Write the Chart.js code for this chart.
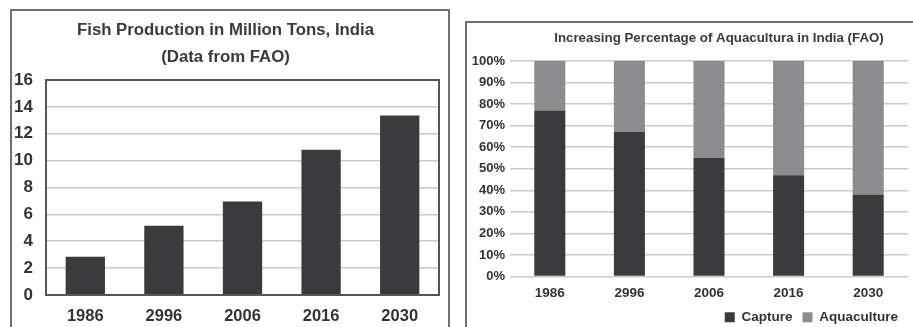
<!DOCTYPE html>
<html lang="en">
<head>
  <meta charset="UTF-8" />
  <title>Fish Production India</title>
  <script src="https://cdn.jsdelivr.net/npm/chart.js"></script>
  <style>
    html, body {
      margin: 0;
      padding: 0;
      width: 913px;
      height: 327px;
      overflow: hidden;
      background: #fff;
      font-family: 'Liberation Sans', Arial, sans-serif;
    }
    .panel {
      position: absolute;
      border: 2px solid #707070;
      box-sizing: border-box;
    }
    #panelLeft { left: 10px; top: 9px; width: 440px; height: 340px; }
    #panelRight { left: 465px; top: 21px; width: 520px; height: 340px; }
    .wrap { position: absolute; }
    #wrapLeft { left: 12px; top: 11px; width: 436px; height: 316px; }
    #wrapRight { left: 467px; top: 23px; width: 504px; height: 311px; }
  </style>
</head>
<body>
  <div class="panel" id="panelLeft"></div>
  <div class="panel" id="panelRight"></div>
  <div class="wrap" id="wrapLeft"><canvas id="chartLeft"></canvas></div>
  <div class="wrap" id="wrapRight"><canvas id="chartRight"></canvas></div>

  <script>
    // datos
    const years = ['1986', '2996', '2006', '2016', '2030'];
    const production = [2.85, 5.15, 6.95, 10.8, 13.35];   // millones de toneladas
    const capture = [77, 67, 55, 47, 38];                  // %
    const aquaculture = [23, 33, 45, 53, 62];              // %
    const yTicksLeft = [0, 2, 4, 6, 8, 10, 12, 14, 16];

    const DARK = '#3b3b3d';
    const LIGHT = '#8c8c8e';
    const GRID = '#cacaca';
    const TEXT = '#333333';
    const FONT = "'Liberation Sans', Arial, sans-serif";

    Chart.defaults.font.family = FONT;
    Chart.defaults.font.weight = 'bold';
    Chart.defaults.color = TEXT;
    Chart.defaults.animation = false;

    // marco del área de trazado (solo gráfica izquierda)
    const plotFrame = {
      id: 'plotFrame',
      afterDatasetsDraw(chart) {
        const a = chart.chartArea;
        const ctx = chart.ctx;
        ctx.save();
        ctx.strokeStyle = '#555';
        ctx.lineWidth = 2;
        ctx.strokeRect(a.left, a.top, a.right - a.left, a.bottom - a.top);
        ctx.restore();
      }
    };

    new Chart(document.getElementById('chartLeft'), {
      type: 'bar',
      data: {
        labels: years,
        datasets: [{
          label: 'Fish Production',
          data: production,
          backgroundColor: DARK,
          categoryPercentage: 1,
          barPercentage: 0.5
        }]
      },
      options: {
        responsive: true,
        maintainAspectRatio: false,
        layout: { padding: { left: 0, right: 9, top: 0, bottom: 0 } },
        plugins: {
          legend: { display: false },
          tooltip: { enabled: false },
          title: {
            display: true,
            text: ['Fish Production in Million Tons, India', '(Data from FAO)'],
            color: '#3a3a3a',
            font: { size: 16.8, weight: 'bold', lineHeight: 1.607 },
            padding: { top: 5.5, bottom: 9.5 }
          }
        },
        scales: {
          x: {
            grid: { display: false, drawTicks: false },
            border: { display: false },
            ticks: { font: { size: 16.5 }, padding: 12 },
            afterFit: s => { s.height = 32; }
          },
          y: {
            min: 0,
            max: 16,
            afterBuildTicks: s => { s.ticks = yTicksLeft.map(v => ({ value: v })); },
            grid: { color: GRID, lineWidth: 1.5, drawTicks: false },
            border: { display: false },
            ticks: { font: { size: 17 }, padding: 13 },
            afterFit: s => { s.width = 34; }
          }
        }
      },
      plugins: [plotFrame]
    });

    new Chart(document.getElementById('chartRight'), {
      type: 'bar',
      data: {
        labels: years,
        datasets: [
          {
            label: 'Capture',
            data: capture,
            backgroundColor: DARK,
            categoryPercentage: 1,
            barPercentage: 0.39
          },
          {
            label: 'Aquaculture',
            data: aquaculture,
            backgroundColor: LIGHT,
            categoryPercentage: 1,
            barPercentage: 0.39
          }
        ]
      },
      options: {
        responsive: true,
        maintainAspectRatio: false,
        plugins: {
          tooltip: { enabled: false },
          title: {
            display: true,
            text: 'Increasing Percentage of Aquacultura in India (FAO)',
            color: '#3a3a3a',
            font: { size: 13.3, weight: 'bold', lineHeight: 1.2 },
            padding: { top: 7, bottom: 15 }
          },
          legend: {
            position: 'bottom',
            align: 'end',
            fullSize: false,
            labels: {
              boxWidth: 10,
              boxHeight: 10,
              padding: 10,
              font: { size: 13.5, weight: 'bold' },
              color: TEXT
            }
          }
        },
        scales: {
          x: {
            stacked: true,
            grid: { display: false, drawTicks: false },
            border: { display: false },
            ticks: { font: { size: 13.5 }, padding: 9 },
            afterFit: s => { s.height = 24; }
          },
          y: {
            stacked: true,
            min: 0,
            max: 100,
            grid: { color: GRID, lineWidth: 1.5, drawTicks: false },
            border: { display: false },
            ticks: { stepSize: 10, font: { size: 13 }, padding: 5, callback: v => v + '%' },
            afterFit: s => { s.width = 43; }
          },
          y1: {
            position: 'right',
            grid: { display: false, drawTicks: false },
            border: { display: false },
            ticks: { display: false },
            afterFit: s => { s.width = 63; }
          }
        }
      }
    });
  </script>
</body>
</html>
